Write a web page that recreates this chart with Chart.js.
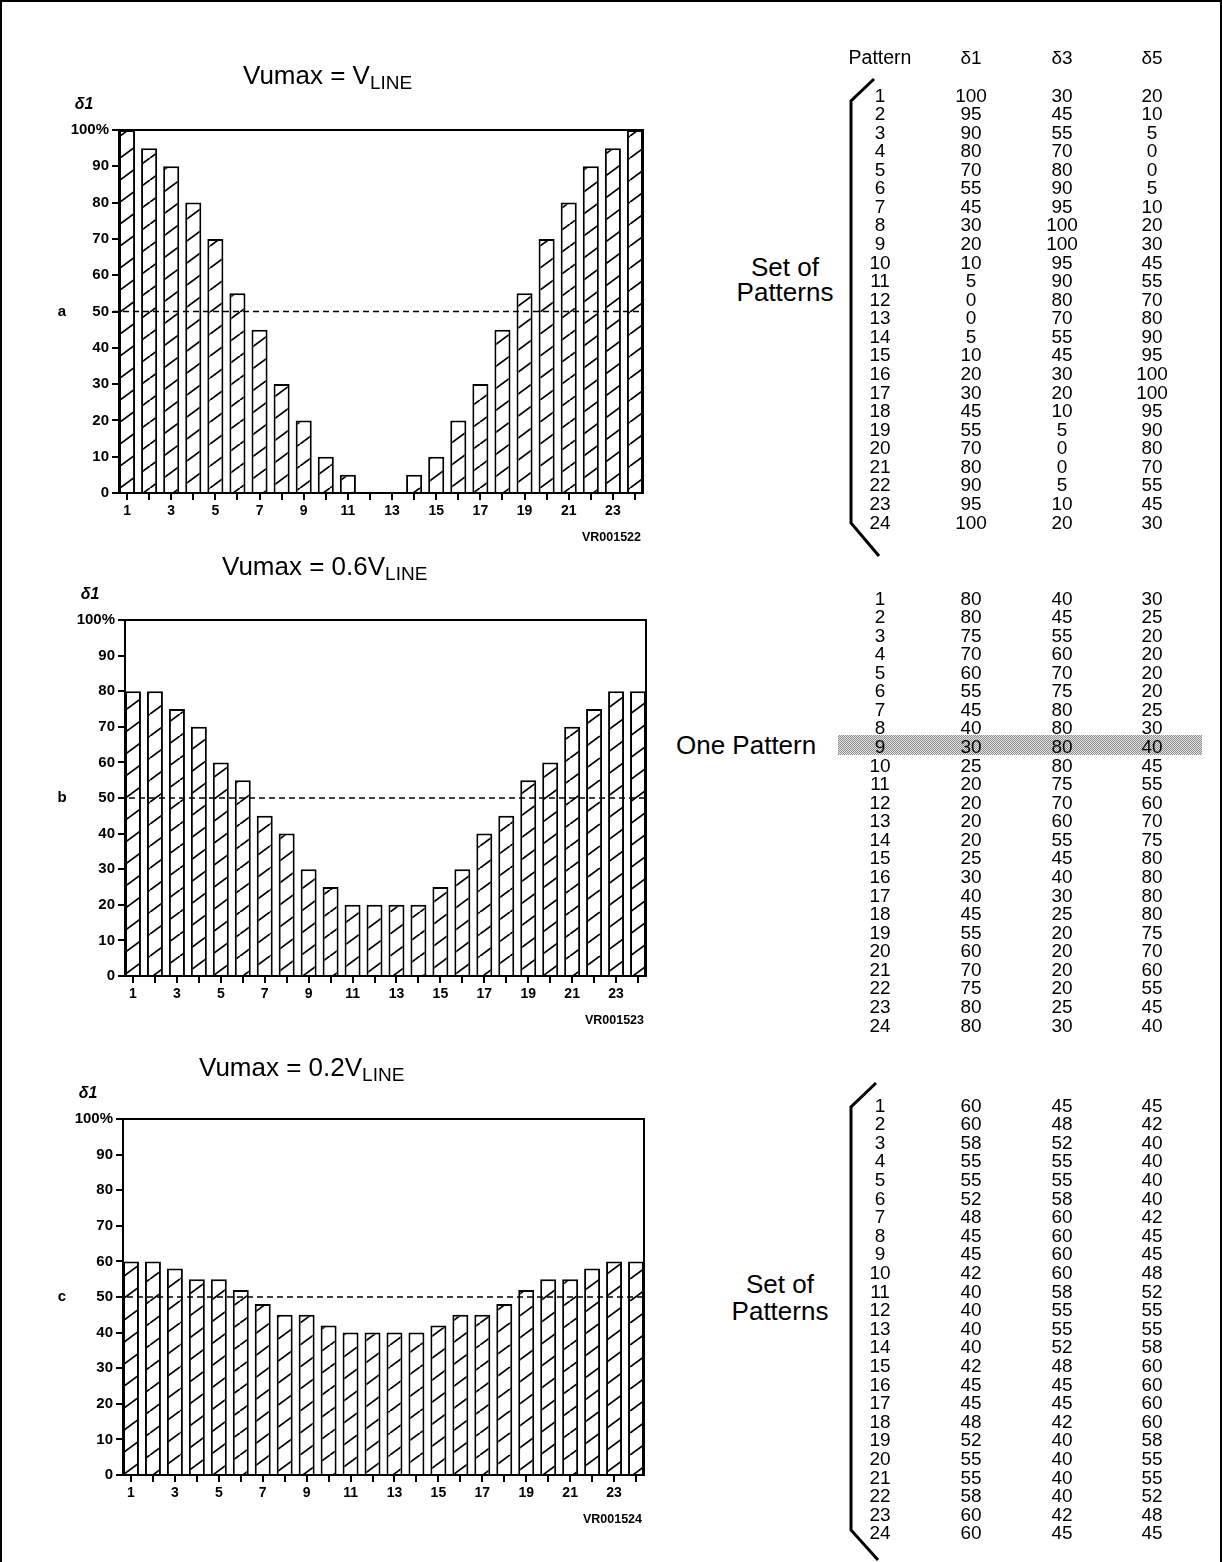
<!DOCTYPE html>
<html>
<head>
<meta charset="utf-8">
<script src="https://cdn.jsdelivr.net/npm/chart.js@4/dist/chart.umd.min.js"></script>
<style>
  body { margin: 0; background: #fff; }
  #page { position: relative; width: 1222px; height: 1562px; overflow: hidden; font-family: "Liberation Sans", Arial, sans-serif; color: #000; }
  #frame { position: absolute; left: 0; top: 0; width: 1218px; height: 1600px; border: 2px solid #000; }
  canvas { position: absolute; left: 0; }
  .title { position: absolute; font-size: 26px; line-height: 30px; white-space: nowrap; }
  .title sub { font-size: 19px; vertical-align: -5px; line-height: 0; }
  .label { position: absolute; font-size: 26px; text-align: center; white-space: nowrap; }
  .cell { position: absolute; width: 60px; text-align: center; font-size: 19px; line-height: 19px; white-space: nowrap; }
  .head { font-size: 19.5px; width: 90px; margin-left: -15px; }
  .band { position: absolute; left: 838px; top: 735px; width: 364px; height: 20px;
    background-image: repeating-conic-gradient(#8a8a8a 0 25%, #e6e6e6 0 50%); background-size: 2px 2px; }
  svg { position: absolute; left: 0; top: 0; }
</style>
</head>
<body>
<div id="page">
  <div id="frame"></div>
  <canvas id="chartA"></canvas>
  <canvas id="chartB"></canvas>
  <canvas id="chartC"></canvas>

  <div class="title" style="left:243px; top:60px;">Vumax = V<sub>LINE</sub></div>
  <div class="title" style="left:222px; top:551px;">Vumax = 0.6V<sub>LINE</sub></div>
  <div class="title" style="left:199px; top:1052px;">Vumax = 0.2V<sub>LINE</sub></div>

  <div class="label" style="left:715px; top:255px; width:140px; line-height:25px;">Set of<br>Patterns</div>
  <div class="label" style="left:676px; top:731px; line-height:28px;">One Pattern</div>
  <div class="label" style="left:710px; top:1271px; width:140px; line-height:27px;">Set of<br>Patterns</div>

  <div class="band"></div>

  <svg width="1222" height="1562">
    <polyline points="874,79 851,101 851,523 879,556" fill="none" stroke="#000" stroke-width="3" />
    <polyline points="876,1083 851,1107 851,1530 878,1560" fill="none" stroke="#000" stroke-width="3" />
  </svg>
  <div id="tables"></div>
</div>

<script>
// Pattern numbers (x categories)
const patterns = [1, 2, 3, 4, 5, 6, 7, 8, 9, 10, 11, 12, 13, 14, 15, 16, 17, 18, 19, 20, 21, 22, 23, 24]

// a: Vumax = VLINE
const deltaOneA = [100, 95, 90, 80, 70, 55, 45, 30, 20, 10, 5, 0, 0, 5, 10, 20, 30, 45, 55, 70, 80, 90, 95, 100]
const deltaThreeA = [30, 45, 55, 70, 80, 90, 95, 100, 100, 95, 90, 80, 70, 55, 45, 30, 20, 10, 5, 0, 0, 5, 10, 20]
const deltaFiveA = [20, 10, 5, 0, 0, 5, 10, 20, 30, 45, 55, 70, 80, 90, 95, 100, 100, 95, 90, 80, 70, 55, 45, 30]

// b: Vumax = 0.6VLINE
const deltaOneB = [80, 80, 75, 70, 60, 55, 45, 40, 30, 25, 20, 20, 20, 20, 25, 30, 40, 45, 55, 60, 70, 75, 80, 80]
const deltaThreeB = [40, 45, 55, 60, 70, 75, 80, 80, 80, 80, 75, 70, 60, 55, 45, 40, 30, 25, 20, 20, 20, 20, 25, 30]
const deltaFiveB = [30, 25, 20, 20, 20, 20, 25, 30, 40, 45, 55, 60, 70, 75, 80, 80, 80, 80, 75, 70, 60, 55, 45, 40]

// c: Vumax = 0.2VLINE
const deltaOneC = [60, 60, 58, 55, 55, 52, 48, 45, 45, 42, 40, 40, 40, 40, 42, 45, 45, 48, 52, 55, 55, 58, 60, 60]
const deltaThreeC = [45, 48, 52, 55, 55, 58, 60, 60, 60, 60, 58, 55, 55, 52, 48, 45, 45, 42, 40, 40, 40, 40, 42, 45]
const deltaFiveC = [45, 42, 40, 40, 40, 40, 42, 45, 45, 48, 52, 55, 55, 58, 60, 60, 60, 60, 58, 55, 55, 52, 48, 45]

const referenceLevel = 50
const tableHeaders = ['Pattern', 'δ1', 'δ3', 'δ5']

Chart.defaults.font.family = '"Liberation Sans", Arial, sans-serif'
Chart.defaults.color = '#000'

const barShare = 0.727 // bar width as part of one pattern step

// diagonal hatch used to fill the bars
const makeHatch = () => {
  const tile = document.createElement('canvas')
  tile.width = 30
  tile.height = 22
  const t = tile.getContext('2d')
  t.fillStyle = '#fff'
  t.fillRect(0, 0, 30, 22)
  t.strokeStyle = '#000'
  t.lineWidth = 1.8
  t.beginPath()
  t.moveTo(-30, 22); t.lineTo(0, 0)
  t.moveTo(0, 22); t.lineTo(30, 0)
  t.moveTo(30, 22); t.lineTo(60, 0)
  t.stroke()
  return t.createPattern(tile, 'repeat')
}

// frame, 50% line and side labels
const panelExtras = {
  id: 'panelExtras',
  afterDatasetsDraw(chart, args, opts) {
    const { ctx, chartArea: { left, right, top, bottom }, scales: { y } } = chart
    ctx.save()
    ctx.strokeStyle = '#000'
    ctx.lineWidth = 2
    ctx.beginPath()
    ctx.moveTo(left - 1, top)
    ctx.lineTo(right, top)
    ctx.lineTo(right, bottom)
    ctx.stroke()

    const y50 = y.getPixelForValue(referenceLevel)
    ctx.lineWidth = 1.3
    ctx.setLineDash([6, 4])
    ctx.beginPath()
    ctx.moveTo(left - 6, y50)
    ctx.lineTo(right, y50)
    ctx.stroke()
    ctx.setLineDash([])

    ctx.fillStyle = '#000'
    ctx.textBaseline = 'middle'
    ctx.textAlign = 'center'
    ctx.font = 'bold 15px "Liberation Sans", Arial'
    ctx.fillText(opts.letter, 62, y50)
    ctx.font = 'bold italic 16px "Liberation Sans", Arial'
    ctx.fillText('δ1', left - 35, top - 25)
    ctx.textAlign = 'right'
    ctx.font = 'bold 12.5px "Liberation Sans", Arial'
    ctx.fillText(opts.code, right - 2, bottom + 45)
    ctx.restore()
  },
}

const drawPanel = (id, values, box, letter, code) => {
  const canvas = document.getElementById(id)
  const padTop = 60
  const padBottom = 60
  canvas.width = box.right + 30
  canvas.height = box.bottom - box.top + padTop + padBottom
  canvas.style.top = (box.top - padTop) + 'px'

  const half = barShare / 2

  return new Chart(canvas.getContext('2d'), {
    type: 'bar',
    data: {
      datasets: [{
        data: patterns.map((p, i) => ({ x: p, y: values[i] })),
        backgroundColor: makeHatch(),
        borderColor: '#000',
        borderWidth: 2,
        barPercentage: barShare,
        categoryPercentage: 1,
      }],
    },
    options: {
      responsive: false,
      animation: false,
      devicePixelRatio: 1,
      layout: { padding: { top: padTop, right: 30, left: 0, bottom: 0 } },
      plugins: {
        legend: { display: false },
        tooltip: { enabled: false },
        panelExtras: { letter, code },
      },
      scales: {
        x: {
          type: 'linear',
          min: patterns[0] - half,
          max: patterns[patterns.length - 1] + half,
          offset: false,
          grid: { drawOnChartArea: false, offset: false, tickLength: 7, lineWidth: 2, color: '#000' },
          border: { display: true, color: '#000', width: 2 },
          ticks: {
            stepSize: 1,
            includeBounds: false,
            autoSkip: false,
            maxRotation: 0,
            padding: 3,
            font: { size: 14, weight: 'bold' },
            callback: (v) => (v % 2 === 1 ? v : ''),
          },
          afterFit: (axis) => { axis.height = padBottom },
        },
        y: {
          min: 0,
          max: 100,
          grid: { drawOnChartArea: false, tickLength: 7, lineWidth: 2, color: '#000' },
          border: { display: true, color: '#000', width: 2 },
          ticks: {
            stepSize: 10,
            padding: 3,
            font: { size: 15, weight: 'bold' },
            callback: (v) => (v === 100 ? '100%' : v),
          },
          afterFit: (axis) => { axis.width = box.left },
        },
      },
    },
    plugins: [panelExtras],
  })
}

drawPanel('chartA', deltaOneA, { left: 119, right: 643, top: 130, bottom: 493 }, 'a', 'VR001522')
drawPanel('chartB', deltaOneB, { left: 125, right: 646, top: 620, bottom: 976 }, 'b', 'VR001523')
drawPanel('chartC', deltaOneC, { left: 123, right: 644, top: 1119, bottom: 1475 }, 'c', 'VR001524')

// right-hand tables
const columnCentres = [880, 971, 1062, 1152]
const holder = document.getElementById('tables')
const addCell = (text, cx, cy, extra) => {
  const el = document.createElement('div')
  el.className = 'cell' + (extra ? ' ' + extra : '')
  el.textContent = text
  el.style.left = (cx - 30) + 'px'
  el.style.top = (cy - 9.5) + 'px'
  holder.appendChild(el)
}

tableHeaders.forEach((h, k) => addCell(h, columnCentres[k], 57, k === 0 ? 'head' : ''))

const addTable = (firstRowY, step, cols) => {
  patterns.forEach((p, i) => {
    const cy = firstRowY + i * step
    addCell(String(p), columnCentres[0], cy)
    cols.forEach((col, k) => addCell(String(col[i]), columnCentres[k + 1], cy))
  })
}

addTable(95, 18.57, [deltaOneA, deltaThreeA, deltaFiveA])
addTable(598, 18.57, [deltaOneB, deltaThreeB, deltaFiveB])
addTable(1105, 18.6, [deltaOneC, deltaThreeC, deltaFiveC])
</script>
</body>
</html>
